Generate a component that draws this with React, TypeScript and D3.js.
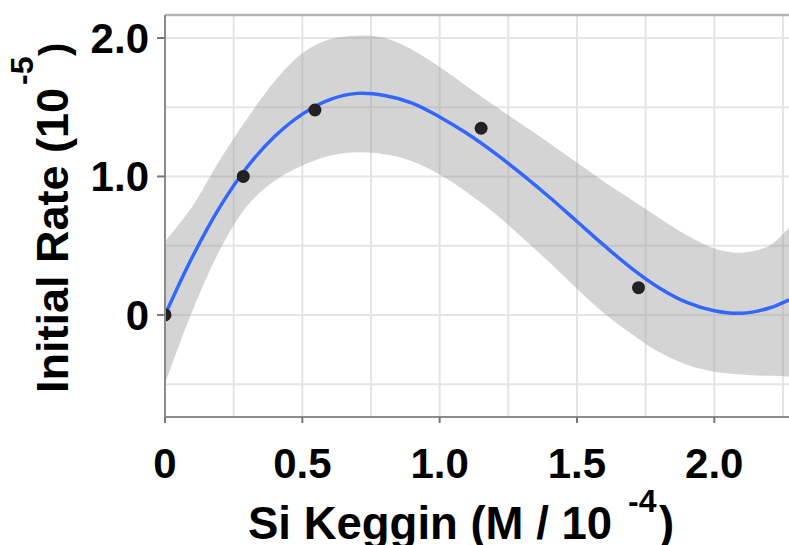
import React from "react";
import * as d3 from "d3";

// Observed rates
const pointX = [0, 0.285, 0.546, 1.151, 1.724];
const pointY = [0, 1.0, 1.48, 1.348, 0.197];

// Smoothed fit and its confidence band, sampled along x
const fitX = [0, 0.1, 0.2, 0.3, 0.4, 0.5, 0.6, 0.7, 0.8, 0.9, 1.0, 1.1, 1.2, 1.3, 1.4, 1.5, 1.6, 1.7, 1.8, 1.9, 2.0, 2.1, 2.2, 2.272];
const fitY = [0, 0.42, 0.78, 1.07, 1.29, 1.45, 1.555, 1.6, 1.585, 1.53, 1.43, 1.31, 1.17, 1.015, 0.85, 0.675, 0.5, 0.335, 0.195, 0.09, 0.03, 0.012, 0.05, 0.11];
const bandUpper = [0.53, 0.785, 1.12, 1.42, 1.69, 1.89, 1.99, 2.017, 2.0, 1.915, 1.79, 1.65, 1.51, 1.375, 1.24, 1.1, 0.96, 0.83, 0.7, 0.575, 0.48, 0.45, 0.5, 0.63];
const bandLower = [-0.5, 0.03, 0.47, 0.79, 0.97, 1.08, 1.15, 1.175, 1.16, 1.11, 1.015, 0.885, 0.735, 0.56, 0.38, 0.19, 0.01, -0.14, -0.27, -0.36, -0.41, -0.43, -0.44, -0.445];

// Axes
const xTicks = [0, 0.5, 1.0, 1.5, 2.0];
const xTickLabels = ["0", "0.5", "1.0", "1.5", "2.0"];
const yTicks = [0, 1.0, 2.0];
const yTickLabels = ["0", "1.0", "2.0"];
const xGrid = [0, 0.25, 0.5, 0.75, 1.0, 1.25, 1.5, 1.75, 2.0, 2.25];
const yGrid = [-0.5, 0, 0.5, 1.0, 1.5, 2.0];

const W = 789;
const H = 545;
const panel = { left: 165, right: 789, top: 15, bottom: 417 };
const FONT = "'Liberation Sans', Arial, Helvetica, sans-serif";

export default function App() {
  const x = d3.scaleLinear().domain([0, 2.272]).range([panel.left, panel.right]);
  const y = d3.scaleLinear().domain([-0.737, 2.166]).range([panel.bottom, panel.top]);

  const idx = fitX.map((_, i) => i);
  const line = d3
    .line<number>()
    .x((i) => x(fitX[i]))
    .y((i) => y(fitY[i]))
    .curve(d3.curveCatmullRom.alpha(0.5));
  const area = d3
    .area<number>()
    .x((i) => x(fitX[i]))
    .y0((i) => y(bandLower[i]))
    .y1((i) => y(bandUpper[i]))
    .curve(d3.curveCatmullRom.alpha(0.5));

  const bold = { fontFamily: FONT, fontWeight: "bold" as const, fill: "#000" };

  return (
    <svg
      width={W}
      height={H}
      viewBox={`0 0 ${W} ${H}`}
      style={{ position: "absolute", left: 0, top: 0, display: "block", background: "#fff" }}
    >
      <defs>
        <clipPath id="panel-clip">
          <rect x={panel.left} y={panel.top} width={panel.right - panel.left} height={panel.bottom - panel.top} />
        </clipPath>
      </defs>
      <rect x={0} y={0} width={W} height={H} fill="#fff" />

      {/* grid */}
      <g clipPath="url(#panel-clip)">
        {xGrid.map((v) => (
          <line key={`gx${v}`} x1={x(v)} x2={x(v)} y1={panel.top} y2={panel.bottom} stroke="#e4e4e4" strokeWidth={2} />
        ))}
        {yGrid.map((v) => (
          <line key={`gy${v}`} x1={panel.left} x2={panel.right} y1={y(v)} y2={y(v)} stroke="#e4e4e4" strokeWidth={2} />
        ))}

        {/* confidence band, fit and observations */}
        <path d={area(idx) ?? ""} fill="#999999" fillOpacity={0.42} />
        <path d={line(idx) ?? ""} fill="none" stroke="#3366ff" strokeWidth={3.5} />
        {pointX.map((v, i) => (
          <circle key={`p${i}`} cx={x(v)} cy={y(pointY[i])} r={6.5} fill="#222" />
        ))}
      </g>

      {/* panel frame */}
      <line x1={panel.left} x2={panel.right} y1={panel.top} y2={panel.top} stroke="#b3b3b3" strokeWidth={2.5} />
      <line x1={panel.left} x2={panel.left} y1={panel.top} y2={panel.bottom} stroke="#8c8c8c" strokeWidth={2} />
      <line x1={panel.left} x2={panel.right} y1={panel.bottom} y2={panel.bottom} stroke="#8c8c8c" strokeWidth={2} />

      {/* y axis */}
      {yTicks.map((v, i) => (
        <g key={`yt${v}`}>
          <line x1={panel.left - 8} x2={panel.left} y1={y(v)} y2={y(v)} stroke="#777" strokeWidth={2} />
          <text x={149} y={y(v) + 15} textAnchor="end" fontSize={42} {...bold}>
            {yTickLabels[i]}
          </text>
        </g>
      ))}

      {/* x axis */}
      {xTicks.map((v, i) => (
        <g key={`xt${v}`}>
          <line x1={x(v)} x2={x(v)} y1={panel.bottom} y2={panel.bottom + 6} stroke="#777" strokeWidth={2} />
          <text x={x(v)} y={478} textAnchor="middle" fontSize={42} {...bold}>
            {xTickLabels[i]}
          </text>
        </g>
      ))}

      {/* x title */}
      <text x={248} y={539} fontSize={45.5} {...bold}>
        Si Keggin (M / 10
      </text>
      <text x={628} y={512} fontSize={32} {...bold}>
        -4
      </text>
      <text x={659} y={539} fontSize={45.5} {...bold}>
        )
      </text>

      {/* y title, read bottom to top */}
      <text transform="translate(68,393) rotate(-90)" fontSize={45} {...bold}>
        Initial Rate (10
      </text>
      <text transform="translate(33,85) rotate(-90)" fontSize={32} {...bold}>
        -5
      </text>
      <text transform="translate(68,56) rotate(-90)" fontSize={40} {...bold}>
        )
      </text>
    </svg>
  );
}
